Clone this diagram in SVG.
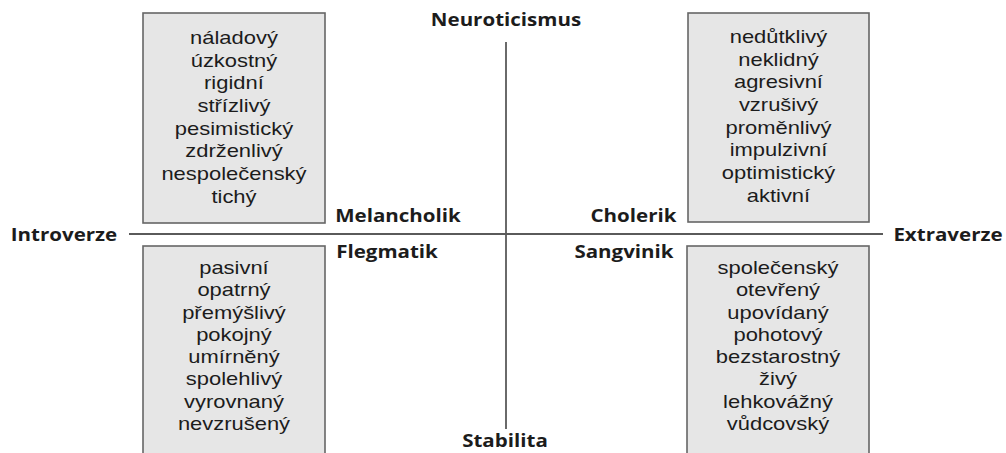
<svg xmlns="http://www.w3.org/2000/svg" width="1006" height="453" viewBox="0 0 1006 453">
<style>
  .box { fill: #e6e6e6; stroke: #666; stroke-width: 1.6; }
  .axis { stroke: #5a5a5a; stroke-width: 1.8; fill: none; }
  text { fill: #1c1c1c; text-anchor: middle; transform-box: fill-box; transform-origin: center; }
  .w { font-family: "Liberation Sans", Arial, sans-serif; font-size: 18px; transform: scaleX(1.22); }
  .lbl { font-family: "Open Sans", "Liberation Sans", sans-serif; font-size: 18px; font-weight: bold; transform: scaleX(1.14); }
</style>
<rect width="1006" height="453" fill="#ffffff"/>

<g id="axes">
  <line class="axis" x1="129" y1="234" x2="883" y2="234"/>
  <line class="axis" x1="506" y1="42" x2="506" y2="429"/>
</g>

<g id="axis-labels">
  <text class="lbl" x="506" y="26">Neuroticismus</text>
  <text class="lbl" x="505" y="447.5">Stabilita</text>
  <text class="lbl" x="64" y="241">Introverze</text>
  <text class="lbl" x="948" y="241">Extraverze</text>
</g>

<g id="melancholik">
  <rect class="box" x="143" y="13" width="182" height="210"/>
  <text class="w" x="234" y="44">náladový</text>
  <text class="w" x="234" y="66.7">úzkostný</text>
  <text class="w" x="234" y="89.4">rigidní</text>
  <text class="w" x="234" y="112.1">střízlivý</text>
  <text class="w" x="234" y="134.8">pesimistický</text>
  <text class="w" x="234" y="157.5">zdrženlivý</text>
  <text class="w" x="234" y="180.2">nespolečenský</text>
  <text class="w" x="234" y="202.9">tichý</text>
  <text class="lbl" x="398" y="222">Melancholik</text>
</g>

<g id="cholerik">
  <rect class="box" x="688" y="13" width="181" height="209"/>
  <text class="w" x="778.5" y="43">nedůtklivý</text>
  <text class="w" x="778.5" y="65.7">neklidný</text>
  <text class="w" x="778.5" y="88.4">agresivní</text>
  <text class="w" x="778.5" y="111.1">vzrušivý</text>
  <text class="w" x="778.5" y="133.8">proměnlivý</text>
  <text class="w" x="778.5" y="156.5">impulzivní</text>
  <text class="w" x="778.5" y="179.2">optimistický</text>
  <text class="w" x="778.5" y="201.9">aktivní</text>
  <text class="lbl" x="633.5" y="222">Cholerik</text>
</g>

<g id="flegmatik">
  <rect class="box" x="143" y="246" width="182" height="220"/>
  <text class="w" x="234" y="274">pasivní</text>
  <text class="w" x="234" y="296.3">opatrný</text>
  <text class="w" x="234" y="318.6">přemýšlivý</text>
  <text class="w" x="234" y="340.9">pokojný</text>
  <text class="w" x="234" y="363.2">umírněný</text>
  <text class="w" x="234" y="385.5">spolehlivý</text>
  <text class="w" x="234" y="407.8">vyrovnaný</text>
  <text class="w" x="234" y="430.1">nevzrušený</text>
  <text class="lbl" x="387" y="258">Flegmatik</text>
</g>

<g id="sangvinik">
  <rect class="box" x="687" y="246" width="182" height="220"/>
  <text class="w" x="778" y="274">společenský</text>
  <text class="w" x="778" y="296.3">otevřený</text>
  <text class="w" x="778" y="318.6">upovídaný</text>
  <text class="w" x="778" y="340.9">pohotový</text>
  <text class="w" x="778" y="363.2">bezstarostný</text>
  <text class="w" x="778" y="385.5">živý</text>
  <text class="w" x="778" y="407.8">lehkovážný</text>
  <text class="w" x="778" y="430.1">vůdcovský</text>
  <text class="lbl" x="624" y="258">Sangvinik</text>
</g>
</svg>
